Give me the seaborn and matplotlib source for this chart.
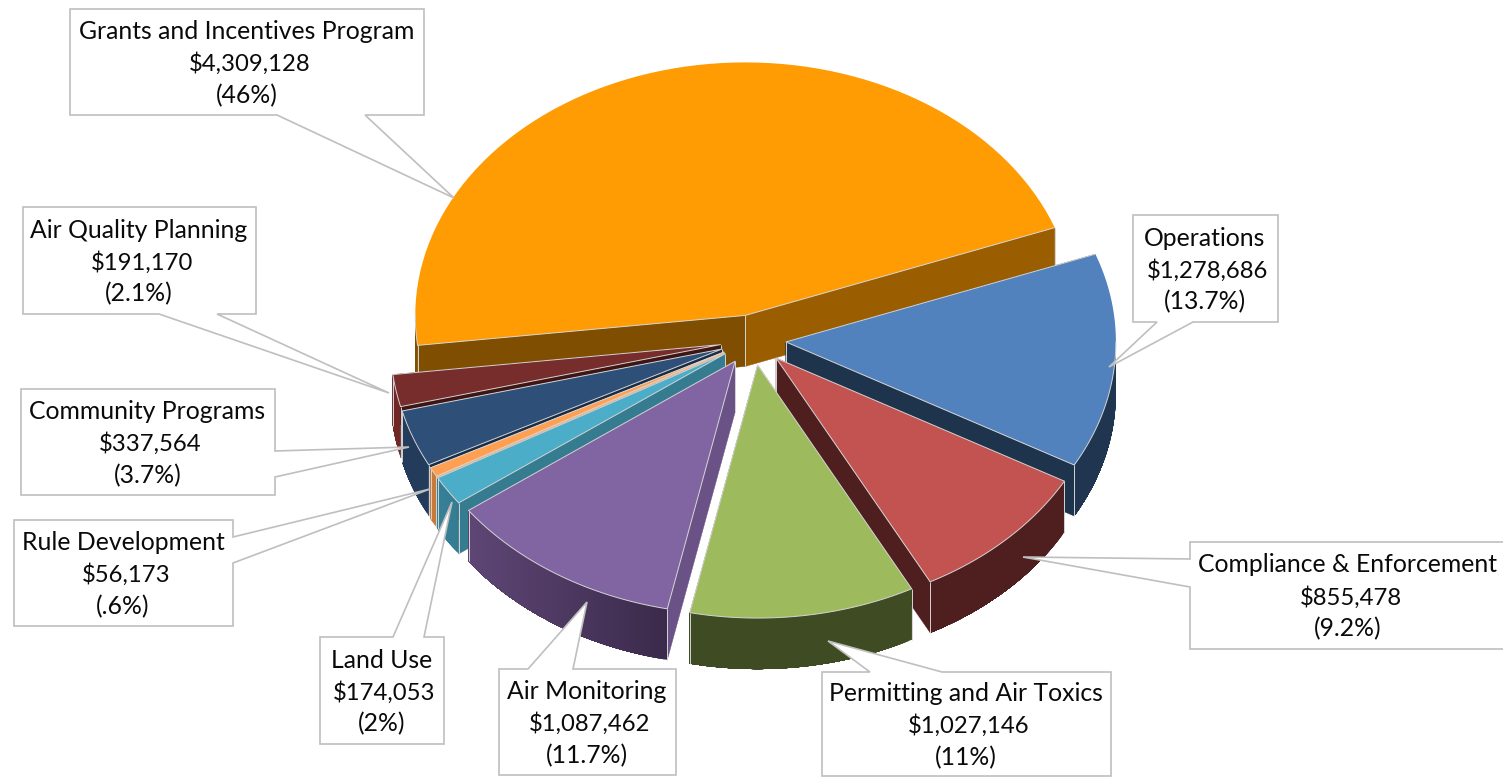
import numpy as np
import matplotlib
matplotlib.use("Agg")
import matplotlib.pyplot as plt
from matplotlib.colors import to_rgb
import seaborn as sns

# Budget slices, clockwise from the start angle
programs = ["Operations", "Compliance & Enforcement", "Permitting and Air Toxics",
            "Air Monitoring", "Land Use", "Rule Development", "Community Programs",
            "Air Quality Planning", "Grants and Incentives Program"]
amounts = [1278686, 855478, 1027146, 1087462, 174053, 56173, 337564, 191170, 4309128]
pct_labels = ["(13.7%)", "(9.2%)", "(11%)", "(11.7%)", "(2%)", "(.6%)", "(3.7%)", "(2.1%)", "(46%)"]

top_colors = ["#5182BE", "#C35350", "#9DBB5C", "#8165A3", "#4BADC7", "#FF9F4F", "#2D4F78", "#772D2B", "#FF9B03"]
cut_start = ["#1E334C", "#4F1F1F", "#3F4A22", "#6A5286", "#357C90", "#F0B488", "#1B2D45", "#3F1514", "#7F4E00"]
cut_end = ["#1E334C", "#4F1F1F", "#3F4A22", "#6A5286", "#357C90", "#F0B488", "#1B2D45", "#3F1514", "#9A5E00"]
rim_left = ["#1F3550", "#4F1F1F", "#3F4B22", "#5E4675", "#35809A", "#C87A3B", "#233C5C", "#6F2826", "#7F4E00"]
rim_right = ["#1F3550", "#4F1F1F", "#3F4B22", "#3B2A4B", "#357C90", "#C87A3B", "#233C5C", "#6F2826", "#7F4E00"]

# Callout layout: box (left, top, right, bottom), pointer base, pointer tip
callouts = {
    "Operations": ((1133, 215, 1278, 322), "bottom", (1157, 1193), (1109, 367)),
    "Compliance & Enforcement": ((1190, 542, 1506, 649), "left", (559, 587), (1023, 557)),
    "Permitting and Air Toxics": ((822, 672, 1111, 776), "top", (870, 942), (828, 641)),
    "Air Monitoring": ((499, 669, 676, 775), "top", (528, 573), (587, 602)),
    "Land Use": ((320, 637, 444, 744), "top", (393, 424), (452, 502)),
    "Rule Development": ((14, 520, 233, 626), "right", (537, 563), (430, 489)),
    "Community Programs": ((21, 389, 275, 495), "right", (451, 477), (409, 447)),
    "Air Quality Planning": ((23, 207, 256, 314), "bottom", (159, 217), (389, 393)),
    "Grants and Incentives Program": ((70, 9, 424, 115), "bottom", (277, 365), (454, 198)),
}

CX, CY = 753, 340
RX, RY = 330, 253
DEPTH = 51
EXPLODE = 0.1
START = 20.3
EDGE = "#d4d4d4"
LINE = "#bfbfbf"

sns.set_theme(style="white")
plt.rcParams["font.family"] = ["Lato", "DejaVu Sans"]

fig = plt.figure(figsize=(15.03, 7.78), dpi=100)
ax = fig.add_axes([0, 0, 1, 1])
ax.set_xlim(0, 1503)
ax.set_ylim(778, 0)
ax.axis("off")


def arc_points(ox, oy, a0, a1, n):
    t = np.radians(np.linspace(a0, a1, n))
    return ox + RX * np.cos(t), oy - RY * np.sin(t)


def cut_face(ox, oy, px, py, color):
    ax.fill([ox, px, px, ox], [oy, py, py + DEPTH, oy + DEPTH], color=color, lw=0.3, zorder=2)


def draw_rim(ox, oy, a0, a1, left, right):
    # only the part of the arc on the near side of the pie shows a rim
    a_hi = min(a0, 0)
    a_lo = max(a1, -180)
    if a_hi <= a_lo:
        return None
    n = max(int(a_hi - a_lo) * 2, 2)
    xs, ys = arc_points(ox, oy, a_hi, a_lo, n + 1)
    c_l, c_r = np.array(to_rgb(left)), np.array(to_rgb(right))
    span = xs.max() - xs.min() + 1e-6
    for i in range(n):
        f = (0.5 * (xs[i] + xs[i + 1]) - xs.min()) / span
        col = tuple(c_l + (c_r - c_l) * f)
        # each band runs on to the far end so no seams show between bands
        bx, by = xs[i:], ys[i:]
        ax.fill(np.r_[bx, bx[::-1]], np.r_[by, by[::-1] + DEPTH], color=col, lw=0, zorder=2)
    return xs, ys


sweeps = 360 * np.array(amounts) / sum(amounts)
ends = START - np.cumsum(sweeps)
starts = ends + sweeps
mids = (starts + ends) / 2

# Back to front
for i in sorted(range(len(amounts)), key=lambda k: -np.sin(np.radians(mids[k]))):
    m = np.radians(mids[i])
    ox = CX + EXPLODE * RX * np.cos(m)
    oy = CY - EXPLODE * RY * np.sin(m)
    xs, ys = arc_points(ox, oy, starts[i], ends[i], 80)
    cut_face(ox, oy, xs[0], ys[0], cut_start[i])
    cut_face(ox, oy, xs[-1], ys[-1], cut_end[i])
    rim = draw_rim(ox, oy, starts[i], ends[i], rim_left[i], rim_right[i])
    for px, py in [(ox, oy), (xs[0], ys[0]), (xs[-1], ys[-1])]:
        ax.plot([px, px], [py, py + DEPTH], color=EDGE, lw=0.7, solid_capstyle="butt", zorder=2)
    ax.fill(np.r_[ox, xs], np.r_[oy, ys], facecolor=top_colors[i], lw=0, zorder=2)
    ax.plot([xs[0], ox, xs[-1]], [ys[0], oy, ys[-1]], color=EDGE, lw=0.7, zorder=2)
    if rim is not None:
        ax.plot(rim[0], rim[1], color=EDGE, lw=0.7, zorder=2)

# Callout boxes with pointers, text on top
for name, amount, pct in zip(programs, amounts, pct_labels):
    (l, t, r, b), side, (p0, p1), tip = callouts[name]
    if side == "bottom":
        outline = [(l, t), (r, t), (r, b), (p1, b), tip, (p0, b), (l, b)]
    elif side == "top":
        outline = [(l, t), (p0, t), tip, (p1, t), (r, t), (r, b), (l, b)]
    elif side == "left":
        outline = [(l, t), (r, t), (r, b), (l, b), (l, p1), tip, (l, p0)]
    else:
        outline = [(l, t), (r, t), (r, p0), tip, (r, p1), (r, b), (l, b)]
    ax.fill(*zip(*outline), facecolor="white", edgecolor=LINE, lw=1.2, joinstyle="miter", zorder=5)
    tx, ty = (l + r) / 2 - 0.5, (t + b) / 2
    ax.text(tx, ty - 23, name, ha="center", va="baseline", fontsize=17.8, color="#0a0a0a", zorder=6)
    ax.text(tx + 3, ty + 9, f"${amount:,}", ha="center", va="baseline", fontsize=17.2, color="#0a0a0a", zorder=6)
    ax.text(tx, ty + 41, pct, ha="center", va="baseline", fontsize=17.8, color="#0a0a0a", zorder=6)

fig.savefig("out.png", dpi=100, facecolor="white")
